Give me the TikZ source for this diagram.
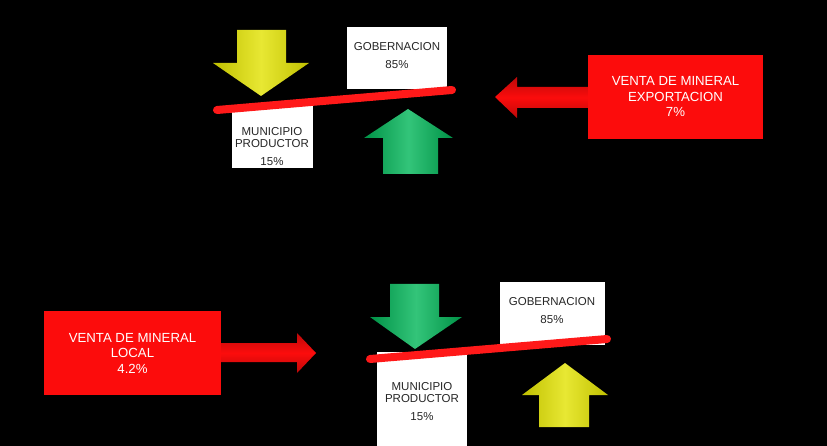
\documentclass[tikz,border=0pt]{standalone}
\usepackage{fontspec}
\setmainfont{Liberation Sans}
\usetikzlibrary{positioning,calc}
\definecolor{scalered}{RGB}{255,25,25}
\definecolor{boxred}{RGB}{252,12,12}
\definecolor{arrowyellow}{RGB}{226,226,0}
\definecolor{arrowgreen}{RGB}{0,182,88}

\begin{document}
\begin{tikzpicture}
		[x=1pt, y=-1pt,
		card/.style={fill=white, inner sep=0pt},
		cardtext/.style={align=center, text=black!85, inner sep=0pt, font=\fontsize{11.5}{12}\selectfont},
		salebox/.style={fill=boxred, inner sep=0pt, align=center, text=white, font=\fontsize{13.2}{15.5}\selectfont},
		beam/.style={scalered, line width=8pt, line cap=round},
		yellowblock/.style={left color=arrowyellow!85!black, right color=arrowyellow!85!black, middle color=arrowyellow!80!white},
		greenblock/.style={left color=arrowgreen!80!black, right color=arrowgreen!80!black, middle color=arrowgreen!80!white},
		redblock/.style={top color=boxred!75!black, bottom color=boxred!75!black, middle color=boxred}]
		\fill[black] (0,0) rectangle (827,446);
		\useasboundingbox (0,0) rectangle (827,446);

		% exportacion
		\node[card, minimum width=100pt, minimum height=62pt] (gob1) at (397,58) {};
		\node[cardtext] (gob1txt) at (397,55.5) {GOBERNACION\\[6pt]85\%};
		\node[card, minimum width=81pt, minimum height=62pt] (mun1) at (272.5,137) {};
		\node[cardtext] (mun1txt) at (272,147) {MUNICIPIO\\PRODUCTOR\\[6pt]15\%};
		\fill[yellowblock] (237,30) -- (286,30) -- (286,63) -- (309,63) -- (261,96) -- (213,63) -- (237,63) -- cycle;
		\coordinate (beam1l) at (217,110);
		\coordinate (beam1r) at (452,90);
		\draw[beam] (beam1l) -- (beam1r);
		\fill[greenblock] (408,109) -- (453,138) -- (438,138) -- (438,174) -- (383,174) -- (383,138) -- (364,138) -- cycle;
		\fill[redblock] (495,97) -- (517,77) -- (517,87) -- (600,87) -- (600,108) -- (517,108) -- (517,118) -- cycle;
		\node[salebox, minimum width=175pt, minimum height=84pt] (exp) at (675.5,97) {VENTA DE MINERAL\\EXPORTACION\\7\%};

		% local
		\node[card, minimum width=105pt, minimum height=63pt] (gob2) at (552.5,313.5) {};
		\node[cardtext] (gob2txt) at (552,311) {GOBERNACION\\[6pt]85\%};
		\node[card, minimum width=90pt, minimum height=94pt] (mun2) at (422,399) {};
		\node[cardtext] (mun2txt) at (422,402) {MUNICIPIO\\PRODUCTOR\\[6pt]15\%};
		\fill[greenblock] (390,284) -- (439,284) -- (439,317) -- (462,317) -- (415,349) -- (370,317) -- (390,317) -- cycle;
		\coordinate (beam2l) at (370,359);
		\coordinate (beam2r) at (607,339);
		\draw[beam] (beam2l) -- (beam2r);
		\fill[yellowblock] (565,363) -- (608,395) -- (589,395) -- (589,427) -- (539,427) -- (539,395) -- (522,395) -- cycle;
		\fill[redblock] (210,343) -- (297,343) -- (297,333) -- (316,353) -- (297,373) -- (297,362) -- (210,362) -- cycle;
		\node[salebox, minimum width=177pt, minimum height=84pt] (loc) at (132.5,353) {VENTA DE MINERAL\\LOCAL\\4.2\%};
	\end{tikzpicture}
\end{document}
